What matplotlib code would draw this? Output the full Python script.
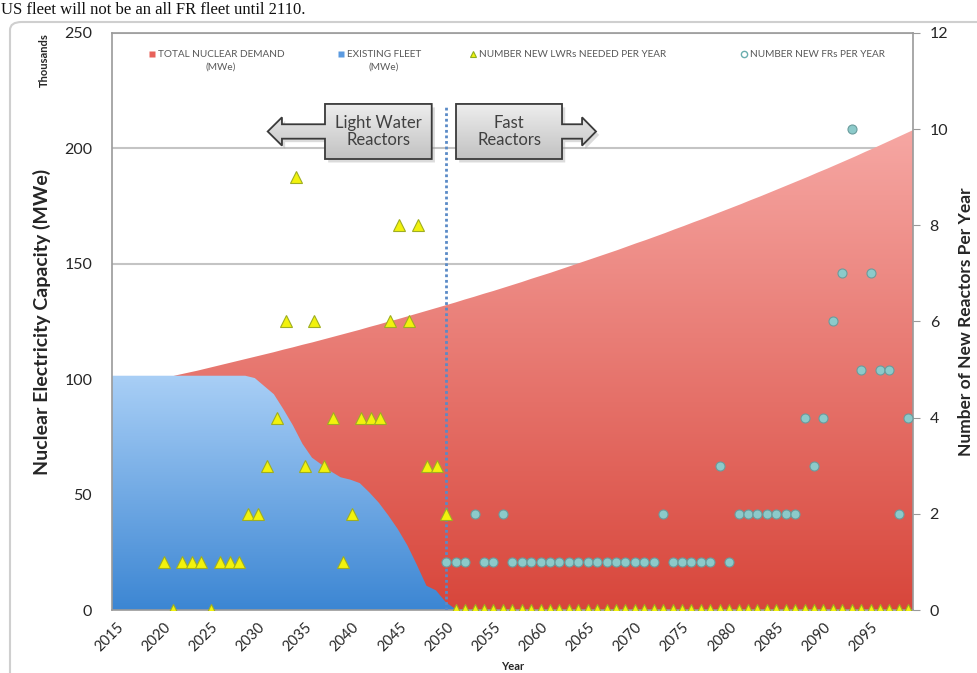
import matplotlib.pyplot as plt
import matplotlib.patches as mpatches
from matplotlib.colors import LinearSegmentedColormap
from matplotlib.lines import Line2D
import numpy as np

plt.rcParams['font.family'] = ['Lato', 'DejaVu Sans']

# Datos (miles de MWe y numero de reactores por año)
years = list(range(2015, 2100))

total_demand = [
    100, 100, 100, 100, 100, 100,
    100.9, 101.9, 102.8, 103.7, 104.7, 105.7, 106.7, 107.7, 108.7, 109.7,
    110.7, 111.7, 112.8, 113.8, 114.9, 115.9, 117.0, 118.1, 119.2, 120.3,
    121.4, 122.6, 123.7, 124.9, 126.0, 127.2, 128.4, 129.6, 130.8, 132.0,
    133.2, 134.5, 135.7, 137.0, 138.2, 139.5, 140.8, 142.1, 143.5, 144.8,
    146.1, 147.5, 148.9, 150.3, 151.7, 153.1, 154.5, 155.9, 157.4, 158.9,
    160.3, 161.8, 163.3, 164.9, 166.4, 168.0, 169.5, 171.1, 172.7, 174.3,
    175.9, 177.6, 179.2, 180.9, 182.6, 184.3, 186.0, 187.7, 189.5, 191.2,
    193.0, 194.8, 196.6, 198.5, 200.3, 202.2, 204.1, 206.0, 207.9,
]

existing_fleet = [
    101.5, 101.5, 101.5, 101.5, 101.5, 101.5, 101.5, 101.5, 101.5, 101.5,
    101.5, 101.5, 101.5, 101.5, 101.5,
    100.5, 97, 93.5, 87, 80, 72, 66, 63, 60, 57.5,
    56.5, 55, 51, 46.5, 41, 35, 28, 19.5, 10.5, 8.5,
    3.5, 0.5,
    0, 0, 0, 0, 0, 0, 0, 0, 0, 0, 0, 0, 0, 0, 0, 0, 0, 0, 0, 0, 0, 0, 0, 0,
    0, 0, 0, 0, 0, 0, 0, 0, 0, 0, 0, 0, 0, 0, 0, 0, 0, 0, 0, 0, 0, 0, 0, 0,
]

new_lwrs = [
    None, None, None, None, None,
    1, 0, 1, 1, 1, 0, 1, 1, 1, 2,
    2, 3, 4, 6, 9, 3, 6, 3, 4, 1,
    2, 4, 4, 4, 6, 8, 6, 8, 3, 3,
    2,
    0, 0, 0, 0, 0, 0, 0, 0, 0, 0, 0, 0, 0, 0, 0, 0, 0, 0, 0, 0, 0, 0, 0, 0, 0,
    0, 0, 0, 0, 0, 0, 0, 0, 0, 0, 0, 0, 0, 0, 0, 0, 0, 0, 0, 0, 0, 0, 0, 0,
]

new_frs = [
    None, None, None, None, None, None, None, None, None, None,
    None, None, None, None, None, None, None, None, None, None,
    None, None, None, None, None, None, None, None, None, None,
    None, None, None, None, None,
    1, 1, 1, 2, 1, 1, 2, 1, 1, 1,
    1, 1, 1, 1, 1, 1, 1, 1, 1, 1,
    1, 1, 1, 2, 1, 1, 1, 1, 1, 3,
    1, 2, 2, 2, 2, 2, 2, 2, 4, 3,
    4, 6, 7, 10, 5, 7, 5, 5, 2, 4,
]

year_ticks = list(range(2015, 2100, 5))
split_year = 2050

x = np.array(years, dtype=float)
demand = np.array(total_demand, dtype=float)
fleet = np.array(existing_fleet, dtype=float)
lwrs = np.array(new_lwrs, dtype=float)
frs = np.array(new_frs, dtype=float)


def area_gradiente(ax, xs, ys, color_arriba, color_abajo, z):
    poly = ax.fill_between(xs, 0, ys, facecolor='none', edgecolor='none', zorder=z)
    cmap = LinearSegmentedColormap.from_list('g', [color_abajo, color_arriba])
    grad = np.linspace(0, 1, 256).reshape(-1, 1)
    im = ax.imshow(grad, cmap=cmap, aspect='auto', origin='lower',
                   extent=[xs[0], xs[-1], 0, np.nanmax(ys)], zorder=z,
                   interpolation='bilinear')
    im.set_clip_path(poly.get_paths()[0], ax.transData)


fig = plt.figure(figsize=(9.77, 6.73), dpi=100)
rect = [0.1143, 0.0936, 0.8202, 0.8574]

ax = fig.add_axes(rect)
area_gradiente(ax, x, demand, '#f6a7a3', '#d8463b', 1)
area_gradiente(ax, x, fleet, '#a9cff6', '#3c86d3', 2)
ax.set_xlim(2015, 2099)
ax.set_ylim(0, 250)
ax.set_yticks([0, 50, 100, 150, 200, 250])
ax.grid(axis='y', color='#c4c4c4', linewidth=1.5)
ax.set_axisbelow(True)
ax.set_xticks([])
ax.tick_params(axis='y', length=0, pad=14, labelsize=11.5, labelcolor='#262626')
ax.set_ylabel('Nuclear Electricity Capacity (MWe)', fontsize=14, fontweight='bold',
              color='#262626')
ax.yaxis.set_label_coords(-0.076, 0.5)
for s in ax.spines.values():
    s.set_color('#9a9a9a')
    s.set_linewidth(1.2)

# linea vertical en 2050
ax.vlines(split_year, 0, 219, colors='#5a8ac6', linewidth=2, linestyles=(0, (1, 1)), zorder=3)

# eje secundario: categorias centradas
ax2 = fig.add_axes(rect, facecolor='none')
ax2.plot(x, lwrs, linestyle='none', marker='^', markersize=9, markerfacecolor='#f2f20c',
         markeredgecolor='#9fae22', markeredgewidth=0.8, zorder=4)
ax2.plot(x, frs, linestyle='none', marker='o', markersize=6.5, markerfacecolor='#8ccaca',
         markeredgecolor='#6a9c9d', markeredgewidth=0.8, zorder=5)
ax2.set_xlim(2014.5, 2099.5)
ax2.set_ylim(0, 12)
ax2.set_yticks(range(0, 13, 2))
ax2.yaxis.tick_right()
ax2.yaxis.set_label_position('right')
ax2.tick_params(axis='y', length=5, color='#9a9a9a', pad=7, labelsize=11.5, labelcolor='#262626')
ax2.set_xticks(year_ticks)
ax2.set_xticklabels([str(a) for a in year_ticks], rotation=45, ha='right', va='top',
                    rotation_mode='anchor')
ax2.tick_params(axis='x', length=0, pad=7.5, labelsize=10.5, labelcolor='#262626')
ax2.set_ylabel('Number of New Reactors Per Year', fontsize=12.5, fontweight='bold',
               color='#262626')
ax2.yaxis.set_label_coords(1.056, 0.5)
for s in ax2.spines.values():
    s.set_visible(False)
ax2.set_xlabel('Year', fontsize=8, fontweight='bold', color='#262626')
ax2.xaxis.set_label_coords(0.5, -0.089)

fig.text(0.045, 0.951, 'Thousands', rotation=90, ha='center', va='top',
         fontsize=8, fontweight='bold', color='#262626')


# flechas "Light Water Reactors" / "Fast Reactors"
def flecha(x0, x1, punta, cuello, y0, y1, texto):
    ym = (y0 + y1) / 2
    hh = 0.0245
    hs = 0.0125
    if punta < x0:
        pts = [(x1, y0), (x1, y1), (x0, y1), (x0, ym + hs), (cuello, ym + hs),
               (cuello, ym + hh), (punta, ym), (cuello, ym - hh), (cuello, ym - hs),
               (x0, ym - hs), (x0, y0)]
    else:
        pts = [(x0, y0), (x0, y1), (x1, y1), (x1, ym + hs), (cuello, ym + hs),
               (cuello, ym + hh), (punta, ym), (cuello, ym - hh), (cuello, ym - hs),
               (x1, ym - hs), (x1, y0)]
    sombra = mpatches.Polygon([(px + 0.004, py - 0.006) for px, py in pts], closed=True,
                              transform=ax2.transAxes, facecolor='#9a9a9a', alpha=0.35,
                              edgecolor='none', zorder=6)
    ax2.add_patch(sombra)
    poly = mpatches.Polygon(pts, closed=True, transform=ax2.transAxes, facecolor='none',
                            edgecolor='#3a3a3a', linewidth=1.3, zorder=8)
    ax2.add_patch(poly)
    cmap = LinearSegmentedColormap.from_list('gris', ['#c2c2c2', '#eeeeee'])
    xs = [p[0] for p in pts]
    im = ax2.imshow(np.linspace(0, 1, 64).reshape(-1, 1), cmap=cmap, aspect='auto',
                    origin='lower', extent=[min(xs), max(xs), y0, y1],
                    transform=ax2.transAxes, zorder=7, interpolation='bilinear')
    im.set_clip_path(poly)
    ax2.text((x0 + x1) / 2, ym, texto, transform=ax2.transAxes, ha='center', va='center',
             fontsize=12, color='#404040', zorder=9, linespacing=1.15)


flecha(0.2662, 0.3994, 0.1947, 0.2125, 0.7816, 0.8770, 'Light Water\nReactors')
flecha(0.4297, 0.5620, 0.6044, 0.5870, 0.7816, 0.8770, 'Fast\nReactors')
ax2.set_xlim(2014.5, 2099.5)
ax2.set_ylim(0, 12)

# leyenda
entradas = [
    (Line2D([], [], linestyle='none', marker='s', markersize=4.5, markerfacecolor='#e8625b',
            markeredgecolor='none'), 'TOTAL NUCLEAR DEMAND', 0.152),
    (Line2D([], [], linestyle='none', marker='s', markersize=4.5, markerfacecolor='#5b9ae0',
            markeredgecolor='none'), 'EXISTING FLEET', 0.346),
    (Line2D([], [], linestyle='none', marker='^', markersize=5, markerfacecolor='#f2f20c',
            markeredgecolor='#8fae22', markeredgewidth=0.8), 'NUMBER NEW LWRs NEEDED PER YEAR', 0.481),
    (Line2D([], [], linestyle='none', marker='o', markersize=4.5, markerfacecolor='#ffffff',
            markeredgecolor='#6aaeae', markeredgewidth=1), 'NUMBER NEW FRs PER YEAR', 0.758),
]
leyendas = []
for h, etiqueta, xpos in entradas:
    lg = fig.legend([h], [etiqueta], loc='center left', bbox_to_anchor=(xpos, 0.9185),
                    frameon=False, fontsize=7.2, handlelength=0.6, handletextpad=0.3,
                    borderpad=0, borderaxespad=0, labelcolor='#595959')
    leyendas.append(lg)

fig.canvas.draw()
r = fig.canvas.get_renderer()
for lg in leyendas[:2]:
    bb = lg.get_texts()[0].get_window_extent(r)
    cx = (bb.x0 + bb.x1) / 2 / fig.bbox.width
    fig.text(cx, 0.9185 - 0.018, '(MWe)', ha='center', va='center', fontsize=7.2, color='#595959')

# marco exterior y texto del documento
marco = mpatches.FancyBboxPatch((10 / 977, -0.1), 1.2, 1.1 - 22 / 673,
                                boxstyle='round,pad=0,rounding_size=0.012',
                                transform=fig.transFigure, facecolor='none',
                                edgecolor='#cfcfcf', linewidth=1.5)
fig.add_artist(marco)
fig.text(0.001, 1 - 14.5 / 673, 'US fleet will not be an all FR fleet until 2110.',
         family='Liberation Serif', fontsize=12, va='baseline', ha='left', color='#111111')

fig.savefig('out.png', dpi=100)
